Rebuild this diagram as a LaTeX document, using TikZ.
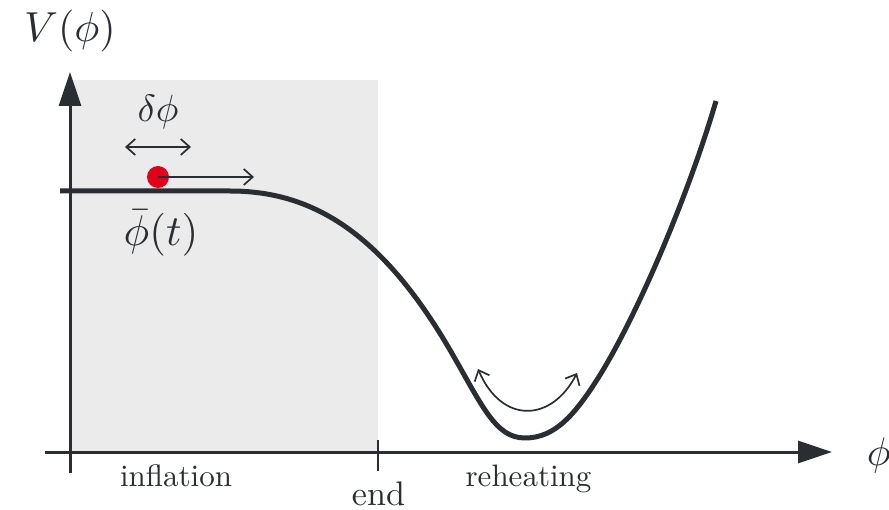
\documentclass[tikz,border=0pt]{standalone}
\usetikzlibrary{arrows.meta}
\definecolor{ink}{HTML}{2A2E33}
\definecolor{regiongray}{HTML}{EBEBEB}
\definecolor{ballred}{HTML}{E0001A}
\tikzset{
  axis/.style={ink, line width=3pt},
  potential/.style={ink, line width=5pt, line join=round},
  thinarrow/.style={ink, line width=1.7pt, -{Straight Barb[length=9pt,width=16pt]}},
  twoarrow/.style={ink, line width=1.7pt, {Straight Barb[length=9pt,width=16pt]}-{Straight Barb[length=9pt,width=16pt]}},
  label/.style={ink, inner sep=0pt},
  word/.style={ink, inner sep=0pt, scale=3.1},
}
\begin{document}
\begin{tikzpicture}[x=1pt,y=-1pt]
\useasboundingbox (0,0) rectangle (889,510);
% shaded inflation region
\fill[regiongray] (70,80) rectangle (378,452);
% coordinates
\coordinate (xs) at (45,452);
\coordinate (xe) at (832,452);
\coordinate (ys) at (70,473);
\coordinate (ye) at (70,72);
\coordinate (t1) at (378,440);
\coordinate (t2) at (378,471);
% axes
\draw[axis, -{Triangle[length=34pt,width=22pt]}] (xs) -- (xe);
\draw[axis, -{Triangle[length=34pt,width=22pt]}] (ys) -- (ye);
\draw[axis, line width=2pt] (t1) -- (t2);
% potential
\draw[potential] (60,191) -- (230,191)
  .. controls (310,191) and (380,230) .. (450,350)
  .. controls (482,405) and (495,438) .. (525,438)
  .. controls (555,438) and (575,415) .. (600,375)
  .. controls (640,310) and (690,190) .. (716,101);
% ball and arrows
\fill[ballred] (158,177) circle (11);
\coordinate (ball) at (158,177);
\coordinate (push) at (254,177);
\draw[thinarrow] (ball) -- (push);
\coordinate (d1) at (125,147);
\coordinate (d2) at (191,147);
\draw[twoarrow] (d1) -- (d2);
% oscillation arrow
\coordinate (o1) at (478,369);
\coordinate (o2) at (577,373);
\draw[twoarrow] (o1) .. controls (502,425) and (552,422) .. (o2);
% labels
\node[label, scale=4.2] (V) at (70,31) {$V(\phi)$};
\node[label, scale=3.8] (dp) at (158,112) {$\delta\phi$};
\node[label, scale=4.3] (pb) at (161,233) {$\bar\phi(t)$};
\node[label, scale=4.0, anchor=west] (phi) at (866,455) {$\phi$};
\node[word] (infl) at (176,476) {inflation};
\node[word, scale=1.1] (end) at (378.5,494) {end};
\node[word] (reh) at (528.5,479) {reheating};
\end{tikzpicture}
\end{document}
